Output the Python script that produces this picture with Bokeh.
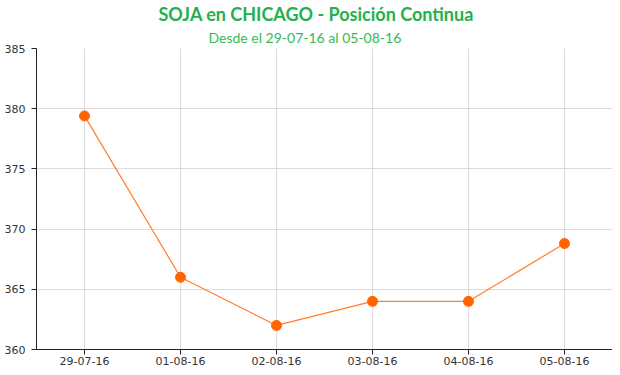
from bokeh.plotting import figure
from bokeh.models import Range1d, FixedTicker, Title
from bokeh.embed import file_html
from bokeh.resources import INLINE

fechas = ["29-07-16", "01-08-16", "02-08-16", "03-08-16", "04-08-16", "05-08-16"]
precios = [379.4, 366.0, 362.0, 364.0, 364.0, 368.8]
y_ticks = [360, 365, 370, 375, 380, 385]

xs = list(range(len(fechas)))

p = figure(width=612, height=367, output_backend="svg", toolbar_location=None,
           x_range=Range1d(-0.5, len(fechas) - 0.5), y_range=Range1d(360, 385),
           min_border_left=36, min_border_right=0, min_border_bottom=0, min_border_top=0)
p.title = None

p.add_layout(Title(text="Desde el 29-07-16 al 05-08-16", align="left", offset=172,
                   text_font="Lato", text_font_size="14px", text_font_style="normal",
                   text_color="#33bb55", standoff=5), "above")
p.add_layout(Title(text="SOJA en CHICAGO - Posición Continua", align="left", offset=122,
                   text_font="Lato", text_font_size="18px", text_font_style="bold",
                   text_color="#22b14c", standoff=0), "above")

p.outline_line_color = None
p.background_fill_color = "white"
p.border_fill_color = "white"

for ax in (p.xaxis, p.yaxis):
    ax.axis_line_color = "#222222"
    ax.axis_line_width = 1
    ax.major_tick_line_color = "#222222"
    ax.major_tick_out = 5
    ax.major_tick_in = 0
    ax.minor_tick_line_color = None
    ax.major_label_text_font = "DejaVu Sans"
    ax.major_label_text_font_size = "11px"
    ax.major_label_text_color = "#333333"

p.yaxis.ticker = FixedTicker(ticks=y_ticks)
p.yaxis.major_label_standoff = 6
p.xaxis.ticker = FixedTicker(ticks=xs)
p.xaxis.major_label_overrides = {i: f for i, f in zip(xs, fechas)}
p.xaxis.major_label_standoff = 2

p.xgrid.ticker = FixedTicker(ticks=xs)
p.ygrid.ticker = FixedTicker(ticks=y_ticks)
p.xgrid.grid_line_color = "#dcdcdc"
p.ygrid.grid_line_color = "#dcdcdc"

p.line(xs, precios, line_color="#ff7f2a", line_width=1.2)
p.scatter(xs, precios, size=10, fill_color="#ff6600", line_color="#ff6600")

open("out.html", "w").write(file_html(p, INLINE))
